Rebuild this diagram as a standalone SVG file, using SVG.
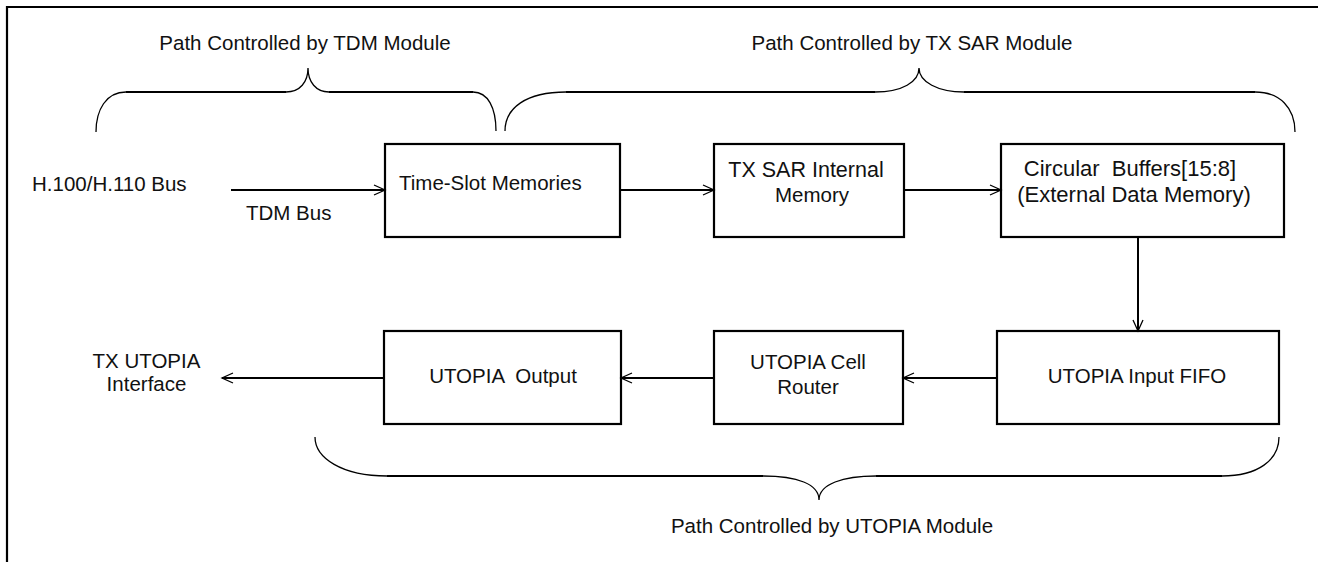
<svg xmlns="http://www.w3.org/2000/svg" width="1318" height="562" viewBox="0 0 1318 562">
<style>
text{font-family:"Liberation Sans",Arial,sans-serif;font-size:20.5px;fill:#111}
.m{text-anchor:middle}
.big{font-size:22px}
.box{fill:#fff;stroke:#000;stroke-width:2.2}
.con{stroke:#000;stroke-width:2;fill:none}
.bc{stroke:#000;stroke-width:1.3;fill:none}
.bl{stroke:#000;stroke-width:2.2;fill:none}
</style>
<defs>
<marker id="ah" markerUnits="userSpaceOnUse" viewBox="-12 -6 13 12" refX="0" refY="0" markerWidth="13" markerHeight="12" orient="auto" overflow="visible">
<path d="M-11,-5 L0,0 L-11,5" fill="none" stroke="#000" stroke-width="1.3"/>
</marker>
</defs>
<rect width="1318" height="562" fill="#fff"/>
<g id="frame">
<path d="M7,562 L7,7 L1318,7" fill="none" stroke="#000" stroke-width="2.2"/>
</g>
<g id="brace-tdm">
<path class="bc" d="M96,132 C96,110 106,92 126,92 M286,92 C300,92 308,82 308,68 C308,82 316,92 329,92 M473,92 C488,92 496,108 496,131"/>
<path class="bl" d="M126,92 L286,92 M329,92 L473,92"/>
<text class="m" x="305" y="50">Path Controlled by TDM Module</text>
</g>
<g id="brace-txsar">
<path class="bc" d="M505,131 C505,108 526,92 566,92 M875,92 C902,92 919,82 919,68 C919,82 938,92 964,92 M1255,92 C1280,92 1295,108 1295,132"/>
<path class="bl" d="M566,92 L875,92 M964,92 L1255,92"/>
<text class="m" x="912" y="50">Path Controlled by TX SAR Module</text>
</g>
<g id="brace-utopia">
<path class="bc" d="M315,437 C315,458 342,476 387,476 M763,476 C797,476 819,484 819,500 C819,484 843,476 876,476 M1222,476 C1258,476 1279,460 1279,437"/>
<path class="bl" d="M387,476 L763,476 M876,476 L1222,476"/>
<text class="m" x="832" y="533">Path Controlled by UTOPIA Module</text>
</g>
<g id="h100">
<text x="32" y="191">H.100/H.110 Bus</text>
</g>
<g id="tdm-bus-label">
<text x="246" y="220">TDM Bus</text>
</g>
<g id="time-slot">
<rect class="box" x="385" y="144" width="235" height="93"/>
<text x="399" y="190">Time-Slot Memories</text>
</g>
<g id="txsar-mem">
<rect class="box" x="714" y="144" width="190" height="93"/>
<text class="m" x="806" y="177" style="font-size:21.5px">TX SAR Internal</text>
<text class="m" x="812" y="202">Memory</text>
</g>
<g id="circ-buf">
<rect class="box" x="1001" y="144" width="283" height="93"/>
<text class="m big" x="1130" y="176" xml:space="preserve">Circular  Buffers[15:8]</text>
<text class="m big" x="1134" y="202">(External Data Memory)</text>
</g>
<g id="input-fifo">
<rect class="box" x="997" y="331" width="282" height="93"/>
<text class="m" x="1137" y="383">UTOPIA Input FIFO</text>
</g>
<g id="cell-router">
<rect class="box" x="714" y="331" width="189" height="93"/>
<text class="m" x="808" y="369">UTOPIA Cell</text>
<text class="m" x="808" y="394">Router</text>
</g>
<g id="utopia-output">
<rect class="box" x="384" y="331" width="237" height="93"/>
<text class="m" x="503" y="383" xml:space="preserve">UTOPIA  Output</text>
</g>
<g id="tx-utopia">
<text class="m" x="146.5" y="368">TX UTOPIA</text>
<text class="m" x="146.5" y="391">Interface</text>
</g>
<g id="connectors">
<line class="con" x1="231" y1="190" x2="385" y2="190" marker-end="url(#ah)"/>
<line class="con" x1="620" y1="190" x2="714" y2="190" marker-end="url(#ah)"/>
<line class="con" x1="904" y1="190" x2="1001" y2="190" marker-end="url(#ah)"/>
<line class="con" x1="1138" y1="237" x2="1138" y2="331" marker-end="url(#ah)"/>
<line class="con" x1="997" y1="378" x2="903" y2="378" marker-end="url(#ah)"/>
<line class="con" x1="714" y1="378" x2="621" y2="378" marker-end="url(#ah)"/>
<line class="con" x1="384" y1="378" x2="222" y2="378" marker-end="url(#ah)"/>
</g>
</svg>
